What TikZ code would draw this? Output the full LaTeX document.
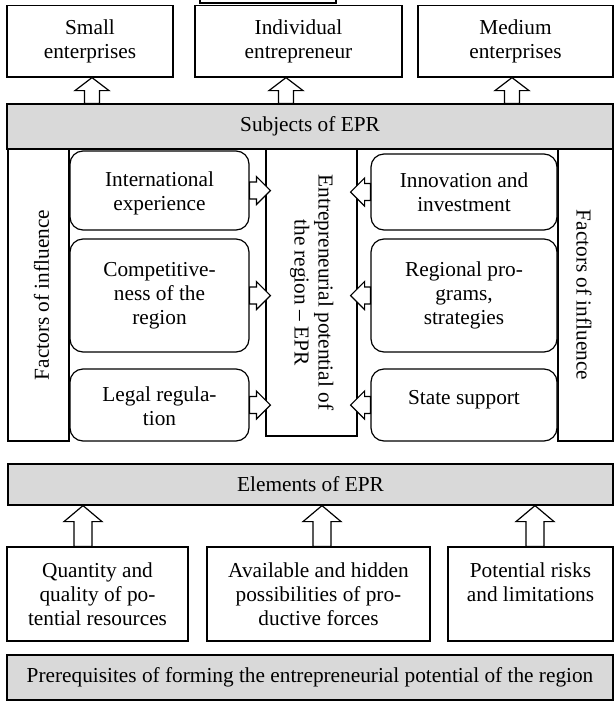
\documentclass[tikz,border=0pt]{standalone}
\usepackage{fontspec}
\setmainfont{Liberation Serif}
\usepackage{graphicx}
\usetikzlibrary{calc}
\tikzset{
  box/.style={draw, line width=1.2pt, inner sep=0pt, align=center, fill=white},
  rbox/.style={box, rounded corners=13pt},
  bar/.style={box, fill=black!15},
  blk/.style={draw, line width=1.2pt, fill=white, line join=miter},
}
% vertical block arrow: x, tail anchor, tip anchor, head length, shaft half width, head half width
\newcommand\blkv[6]{%
  \draw[blk] let \p1=(#2), \p2=(#3) in
    ({#1-#5},\y1) -- ({#1-#5},{\y2-#4}) -- ({#1-#6},{\y2-#4}) -- (#1,\y2) --
    ({#1+#6},{\y2-#4}) -- ({#1+#5},{\y2-#4}) -- ({#1+#5},\y1) -- cycle;}
% horizontal block arrow: tail anchor, edge anchor, direction (1/-1), overshoot
\newcommand\blkh[4]{%
  \draw[blk] let \p1=(#1), \p2=(#2), \n1={\x2+(#3)*(#4)}, \n2={\n1-(#3)*14} in
    (\x1,{\y1+8.5}) -- (\n2,{\y1+8.5}) -- (\n2,{\y1+14}) -- (\n1,\y1) --
    (\n2,{\y1-14}) -- (\n2,{\y1-8.5}) -- (\x1,{\y1-8.5}) -- cycle;}
\newcommand\shiftdown[2]{\raisebox{-#1}[\height][\depth]{\begin{tabular}{@{}c@{}}#2\end{tabular}}}
\begin{document}
\begin{tikzpicture}[x=1pt,y=-1pt,font=\fontsize{21.3}{24}\selectfont]
\useasboundingbox (0,0) rectangle (615,702);
% top row
\node[box, minimum width=136pt, minimum height=40pt] (topbox) at (268,-17) {};
\node[box, minimum width=166pt, minimum height=71.5pt] (small) at (90,41.25) {Small\\enterprises};
\node[box, minimum width=207pt, minimum height=71.5pt] (indiv) at (298.5,41.25) {Individual\\entrepreneur};
\node[box, minimum width=195pt, minimum height=71.5pt] (medium) at (515.5,41.25) {Medium\\enterprises};
\node[bar, minimum width=606pt, minimum height=45pt] (subj) at (310,126.5) {Subjects of EPR};
% middle
\node[box, minimum width=61pt, minimum height=292pt] (lfac) at (38.5,295) {\hspace{6pt}\rotatebox{90}{Factors of influence}};
\node[box, minimum width=55pt, minimum height=292pt] (rfac) at (585.5,295) {\rotatebox{-90}{Factors of influence}\hspace{3pt}};
\node[box, minimum width=91pt, minimum height=287pt] (epr) at (311.5,292.5)
  {\rotatebox{-90}{\begin{tabular}{@{}c@{}}Entrepreneurial potential of\\the region -- EPR\end{tabular}}};
\node[rbox, minimum width=179pt, minimum height=79pt] (intl) at (159.5,190.5) {\shiftdown{3pt}{International\\experience}};
\node[rbox, minimum width=179pt, minimum height=113pt] (comp) at (159.5,295.5) {Competitive-\\ness of the\\region};
\node[rbox, minimum width=179pt, minimum height=72pt] (legal) at (159.5,405) {\shiftdown{4pt}{Legal regula-\\tion}};
\node[rbox, minimum width=186pt, minimum height=76pt] (innov) at (464,192) {Innovation and\\investment};
\node[rbox, minimum width=186pt, minimum height=113pt] (regio) at (464,295.5) {Regional pro-\\grams,\\strategies};
\node[rbox, minimum width=186pt, minimum height=72pt] (state) at (464,405) {\raisebox{16pt}{State support}};
% lower
\node[bar, minimum width=605pt, minimum height=41pt] (elem) at (310.5,484.5) {Elements of EPR};
\node[box, minimum width=181pt, minimum height=94pt] (quant) at (97.5,594) {Quantity and\\quality of po-\\tential resources};
\node[box, minimum width=223pt, minimum height=94pt] (avail) at (318.5,594) {Available and hidden\\possibilities of pro-\\ductive forces};
\node[box, minimum width=165pt, minimum height=94pt] (poten) at (530.5,594) {Potential risks\\and limitations\\~};
\node[bar, minimum width=606pt, minimum height=45pt] (prereq) at (310,677.5) {Prerequisites of forming the entrepreneurial potential of the region};
% arrows
\blkv{92}{subj.north}{small.south}{13}{7.5}{17}
\blkv{286}{subj.north}{indiv.south}{13}{7.5}{17}
\blkv{512}{subj.north}{medium.south}{13}{7.5}{17}
\blkv{83}{quant.north}{elem.south}{16}{9}{19}
\blkv{322}{avail.north}{elem.south}{16}{9}{19}
\blkv{535}{poten.north}{elem.south}{16}{9}{19}
\blkh{intl.east}{epr.west}{1}{5}
\blkh{comp.east}{epr.west}{1}{5}
\blkh{legal.east}{epr.west}{1}{5}
\blkh{innov.west}{epr.east}{-1}{7}
\blkh{regio.west}{epr.east}{-1}{7}
\blkh{state.west}{epr.east}{-1}{7}
\end{tikzpicture}
\end{document}
